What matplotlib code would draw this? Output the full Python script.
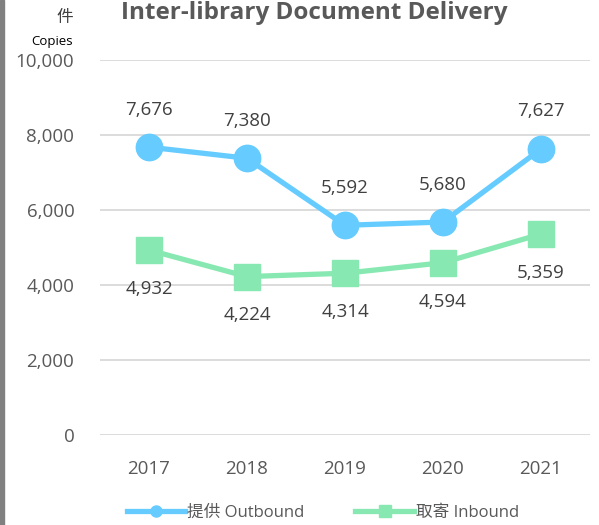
import matplotlib
matplotlib.use("Agg")
import matplotlib.pyplot as plt
from matplotlib.patches import Rectangle

plt.rcParams['font.family'] = ['Open Sans', 'Noto Sans CJK TC', 'DejaVu Sans']

years = ['2017', '2018', '2019', '2020', '2021']
outbound = [7676, 7380, 5592, 5680, 7627]
inbound = [4932, 4224, 4314, 4594, 5359]
yticks = [0, 2000, 4000, 6000, 8000, 10000]

blue = '#66CCFF'
green = '#88E8B2'
txt = '#404040'

fig = plt.figure(figsize=(5.99, 5.25), dpi=100)
ax = fig.add_axes([100/599, 90/525, 490/599, 375/525])

x = list(range(len(years)))
l1, = ax.plot(x, outbound, color=blue, lw=3.8, marker='o', ms=19, zorder=3,
              label='提供 Outbound')
l2, = ax.plot(x, inbound, color=green, lw=3.8, marker='s', ms=19, zorder=3,
              label='取寄 Inbound')

for xi, v in zip(x, outbound):
    ax.annotate(f'{v:,}', (xi, v), xytext=(0, 27), textcoords='offset points',
                ha='center', va='center', fontsize=13.5, color=txt)
for xi, v in zip(x, inbound):
    ax.annotate(f'{v:,}', (xi, v), xytext=(0, -28), textcoords='offset points',
                ha='center', va='center', fontsize=13.5, color=txt)

ax.set_xlim(-0.5, 4.5)
ax.set_ylim(0, 10000)
ax.set_yticks(yticks)
ax.set_yticklabels([f'{v:,}' for v in yticks])
ax.set_xticks(x)
ax.set_xticklabels(years)
ax.grid(axis='y', color='#D9D9D9', lw=1.3)
ax.set_axisbelow(True)
for s in ax.spines.values():
    s.set_visible(False)
ax.tick_params(axis='both', length=0, labelsize=13.5, labelcolor='#595959')
ax.tick_params(axis='y', pad=18.5)
ax.tick_params(axis='x', pad=18)

fig.text(314/599, 1 - 13/525, 'Inter-library Document Delivery', ha='center', va='center',
         fontsize=17.5, fontweight='bold', color='#595959')
fig.text(73/599, 1 - 18/525, '件', ha='right', va='center', fontsize=12, color=txt)
fig.text(73/599, 1 - 41/525, 'Copies', ha='right', va='center', fontsize=9.5, color='black')

fig.patches.append(Rectangle((0, 0), 4/599, 1, transform=fig.transFigure,
                             color='#808080', zorder=0))

fig.legend(handles=[l1, l2], loc='center', bbox_to_anchor=(323/599, 1 - 513/525),
           ncol=2, frameon=False, fontsize=12, labelcolor='#595959',
           markerscale=0.42, handlelength=3.5, columnspacing=3.05, handletextpad=0.15)

fig.savefig('out.png', dpi=100)
